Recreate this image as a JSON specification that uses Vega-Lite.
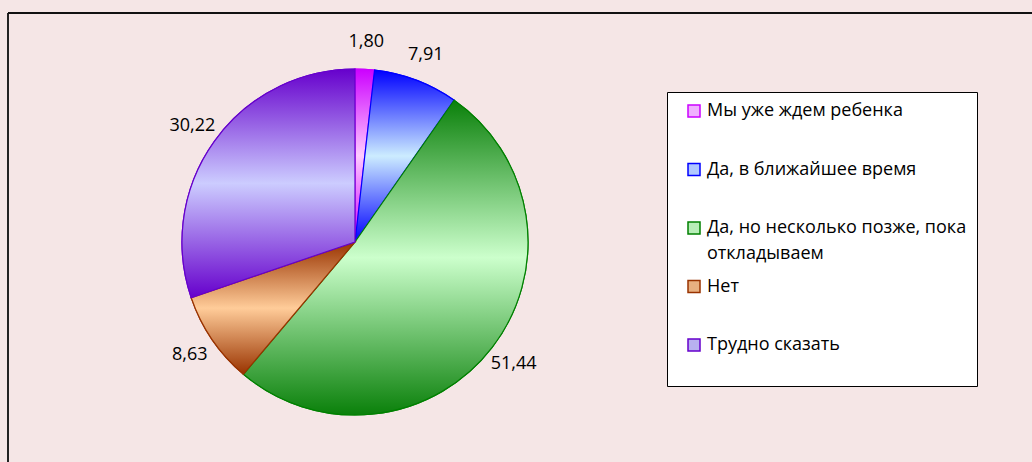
{
  "$schema": "https://vega.github.io/schema/vega-lite/v6.json",
  "autosize": {"type": "none"},
  "padding": {"left": 8, "top": 13, "right": 330, "bottom": 0},
  "width": 694,
  "height": 458,
  "background": "#F5E6E6",
  "config": {
    "view": {"stroke": null},
    "locale": {"number": {"decimal": ",", "thousands": " ", "grouping": [3], "currency": ["", ""]}}
  },
  "data": {
    "values": [
      {"cat": "Мы уже ждем ребенка", "value": 1.80, "order": 1},
      {"cat": "Да, в ближайшее время", "value": 7.91, "order": 2},
      {"cat": "Да, но несколько позже, пока откладываем", "value": 51.44, "order": 3},
      {"cat": "Нет", "value": 8.63, "order": 4},
      {"cat": "Трудно сказать", "value": 30.22, "order": 5}
    ]
  },
  "transform": [
    {"stack": "value", "groupby": [], "sort": [{"field": "order", "order": "ascending"}], "as": ["v0", "v1"]}
  ],
  "layer": [
    {
      "data": {"values": [{"k": 0}]},
      "mark": {"type": "rule", "color": "#222222", "strokeWidth": 2},
      "encoding": {
        "x": {"datum": 0, "type": "quantitative", "scale": {"domain": [0, 1], "range": [0, 1030]}, "axis": null}
      }
    },
    {
      "data": {"values": [{"k": 0}]},
      "mark": {"type": "rule", "color": "#111111", "strokeWidth": 2},
      "encoding": {
        "x": {"datum": 0, "type": "quantitative"},
        "x2": {"datum": 1},
        "y": {"datum": 1, "type": "quantitative", "scale": {"domain": [0, 1]}, "axis": null}
      }
    },
    {
      "mark": {"type": "arc", "outerRadius": 173, "strokeWidth": 1.2},
      "encoding": {
        "theta": {"field": "v0", "type": "quantitative", "scale": {"domain": [0, 100]}},
        "theta2": {"field": "v1"},
        "fill": {
          "field": "cat", "type": "nominal",
          "sort": ["Мы уже ждем ребенка", "Да, в ближайшее время", "Да, но несколько позже, пока откладываем", "Нет", "Трудно сказать"],
          "scale": {
            "domain": ["Мы уже ждем ребенка", "Да, в ближайшее время", "Да, но несколько позже, пока откладываем", "Нет", "Трудно сказать"],
            "range": ["#F0B0FF", "#B0C8FF", "#B8EEB8", "#E8B080", "#B8B0F0"]
          },
          "legend": {
            "title": " ",
            "titleOrient": "bottom",
            "titleFontSize": 10,
            "titlePadding": 12,
            "orient": "none",
            "legendX": 659,
            "legendY": 79,
            "fillColor": "white",
            "strokeColor": "black",
            "padding": 10,
            "symbolType": "square",
            "symbolSize": 144,
            "symbolStrokeWidth": 1.5,
            "symbolOffset": 8,
            "labelFont": "Open Sans",
            "labelFontSize": 18,
            "labelColor": "black",
            "labelOffset": 4,
            "labelLimit": 400,
            "rowPadding": 14.5,
            "gridAlign": "all",
            "labelExpr": "datum.label == 'Да, но несколько позже, пока откладываем' ? ['Да, но несколько позже, пока', 'откладываем'] : datum.label",
            "encoding": {
              "labels": {
                "lineHeight": {"value": 26}
              },
              "symbols": {
                "fill": {
                  "condition": [
                    {"test": "datum.value == 'Мы уже ждем ребенка'", "value": {"gradient": "linear", "x1": 0, "y1": 0, "x2": 0, "y2": 1, "stops": [{"offset": 0, "color": "#CC00FF"}, {"offset": 0.5, "color": "#FFCCFF"}, {"offset": 1, "color": "#CC00FF"}]}},
                    {"test": "datum.value == 'Да, в ближайшее время'", "value": {"gradient": "linear", "x1": 0, "y1": 0, "x2": 0, "y2": 1, "stops": [{"offset": 0, "color": "#0000FF"}, {"offset": 0.5, "color": "#CCECFF"}, {"offset": 1, "color": "#0000FF"}]}},
                    {"test": "datum.value == 'Да, но несколько позже, пока откладываем'", "value": {"gradient": "linear", "x1": 0, "y1": 0, "x2": 0, "y2": 1, "stops": [{"offset": 0, "color": "#0A800A"}, {"offset": 0.5, "color": "#CCFFCC"}, {"offset": 1, "color": "#0A800A"}]}},
                    {"test": "datum.value == 'Нет'", "value": {"gradient": "linear", "x1": 0, "y1": 0, "x2": 0, "y2": 1, "stops": [{"offset": 0, "color": "#993300"}, {"offset": 0.5, "color": "#FFCC99"}, {"offset": 1, "color": "#993300"}]}}
                  ],
                  "value": {"gradient": "linear", "x1": 0, "y1": 0, "x2": 0, "y2": 1, "stops": [{"offset": 0, "color": "#6600CC"}, {"offset": 0.5, "color": "#CCCCFF"}, {"offset": 1, "color": "#6600CC"}]}
                }
              }
            }
          }
        },
        "stroke": {
          "field": "cat", "type": "nominal",
          "sort": ["Мы уже ждем ребенка", "Да, в ближайшее время", "Да, но несколько позже, пока откладываем", "Нет", "Трудно сказать"],
          "scale": {
            "domain": ["Мы уже ждем ребенка", "Да, в ближайшее время", "Да, но несколько позже, пока откладываем", "Нет", "Трудно сказать"],
            "range": ["#CC00FF", "#0000FF", "#008000", "#993300", "#6600CC"]
          },
          "legend": {
            "title": " ",
            "titleOrient": "bottom",
            "titleFontSize": 10,
            "titlePadding": 12,
            "orient": "none",
            "legendX": 659,
            "legendY": 79,
            "fillColor": "white",
            "strokeColor": "black",
            "padding": 10,
            "symbolType": "square",
            "symbolSize": 144,
            "symbolStrokeWidth": 1.5,
            "symbolOffset": 8,
            "labelFont": "Open Sans",
            "labelFontSize": 18,
            "labelColor": "black",
            "labelOffset": 4,
            "labelLimit": 400,
            "rowPadding": 14.5,
            "gridAlign": "all",
            "labelExpr": "datum.label == 'Да, но несколько позже, пока откладываем' ? ['Да, но несколько позже, пока', 'откладываем'] : datum.label",
            "encoding": {
              "labels": {
                "lineHeight": {"value": 26}
              }
            }
          }
        }
      }
    },
    {
      "transform": [{"filter": "datum.order == 1"}],
      "mark": {"type": "arc", "outerRadius": 173, "strokeWidth": 1.2, "stroke": "#CC00FF",
        "fill": {"gradient": "linear", "x1": 0, "y1": 0, "x2": 0, "y2": 1, "stops": [{"offset": 0, "color": "#CC00FF"}, {"offset": 0.5, "color": "#FFCCFF"}, {"offset": 1, "color": "#CC00FF"}]}},
      "encoding": {"theta": {"field": "v0", "type": "quantitative"}, "theta2": {"field": "v1"}}
    },
    {
      "transform": [{"filter": "datum.order == 2"}],
      "mark": {"type": "arc", "outerRadius": 173, "strokeWidth": 1.2, "stroke": "#0000FF",
        "fill": {"gradient": "linear", "x1": 0, "y1": 0, "x2": 0, "y2": 1, "stops": [{"offset": 0, "color": "#0000FF"}, {"offset": 0.5, "color": "#CCECFF"}, {"offset": 1, "color": "#0000FF"}]}},
      "encoding": {"theta": {"field": "v0", "type": "quantitative"}, "theta2": {"field": "v1"}}
    },
    {
      "transform": [{"filter": "datum.order == 3"}],
      "mark": {"type": "arc", "outerRadius": 173, "strokeWidth": 1.2, "stroke": "#008000",
        "fill": {"gradient": "linear", "x1": 0, "y1": 0, "x2": 0, "y2": 1, "stops": [{"offset": 0, "color": "#0A800A"}, {"offset": 0.5, "color": "#CCFFCC"}, {"offset": 1, "color": "#0A800A"}]}},
      "encoding": {"theta": {"field": "v0", "type": "quantitative"}, "theta2": {"field": "v1"}}
    },
    {
      "transform": [{"filter": "datum.order == 4"}],
      "mark": {"type": "arc", "outerRadius": 173, "strokeWidth": 1.2, "stroke": "#993300",
        "fill": {"gradient": "linear", "x1": 0, "y1": 0, "x2": 0, "y2": 1, "stops": [{"offset": 0, "color": "#993300"}, {"offset": 0.5, "color": "#FFCC99"}, {"offset": 1, "color": "#993300"}]}},
      "encoding": {"theta": {"field": "v0", "type": "quantitative"}, "theta2": {"field": "v1"}}
    },
    {
      "transform": [{"filter": "datum.order == 5"}],
      "mark": {"type": "arc", "outerRadius": 173, "strokeWidth": 1.2, "stroke": "#6600CC",
        "fill": {"gradient": "linear", "x1": 0, "y1": 0, "x2": 0, "y2": 1, "stops": [{"offset": 0, "color": "#6600CC"}, {"offset": 0.5, "color": "#CCCCFF"}, {"offset": 1, "color": "#6600CC"}]}},
      "encoding": {"theta": {"field": "v0", "type": "quantitative"}, "theta2": {"field": "v1"}}
    },
    {
      "mark": {"type": "text", "radius": 200, "font": "Open Sans", "fontSize": 18, "color": "black"},
      "encoding": {
        "theta": {"field": "value", "type": "quantitative", "stack": true},
        "order": {"field": "order", "type": "quantitative"},
        "detail": {"field": "cat", "type": "nominal"},
        "text": {"field": "value", "type": "quantitative", "format": ".2f"}
      }
    }
  ]
}
